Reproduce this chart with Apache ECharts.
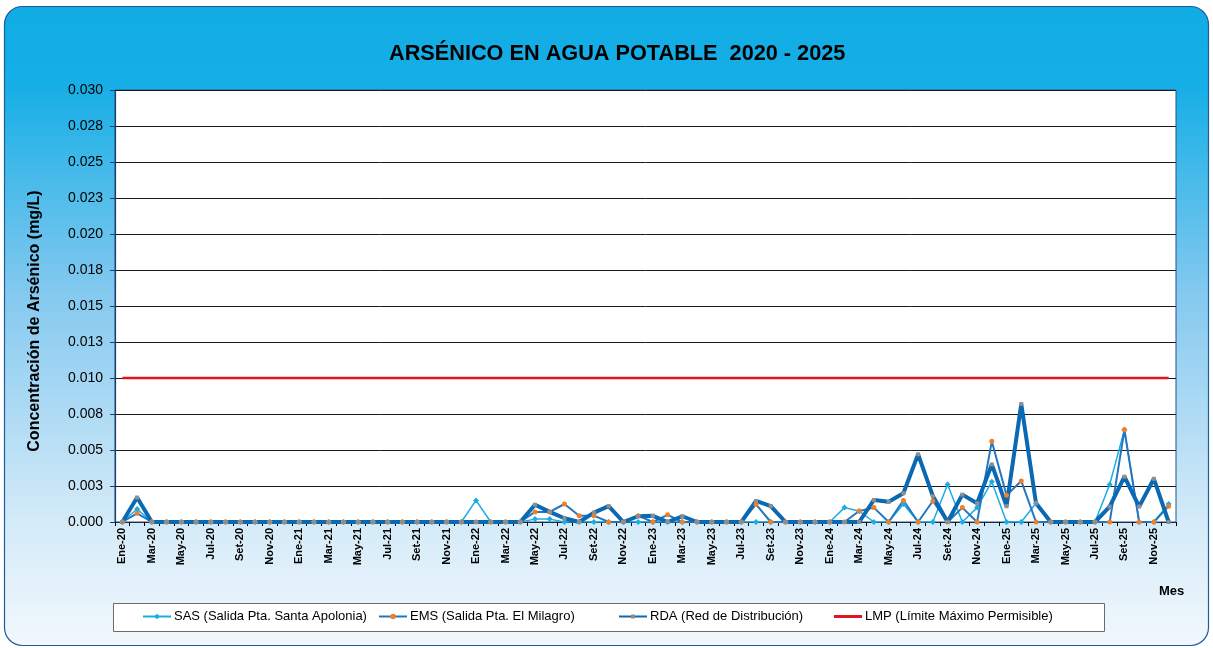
<!DOCTYPE html>
<html>
<head>
<meta charset="utf-8">
<title>Arsénico en agua potable 2020 - 2025</title>
<script src="https://cdn.jsdelivr.net/npm/echarts@6/dist/echarts.min.js"></script>
<style>
  html, body { margin: 0; padding: 0; background: #fff; }
  #chart { width: 1213px; height: 648px; }
</style>
</head>
<body>
<div id="chart"></div>
<script>
// months Ene-20 .. Dic-25
const monthNames = ['Ene', 'Feb', 'Mar', 'Abr', 'May', 'Jun', 'Jul', 'Ago', 'Set', 'Oct', 'Nov', 'Dic'];
const years = ['20', '21', '22', '23', '24', '25'];
const months = [];
years.forEach(y => monthNames.forEach(m => months.push(m + '-' + y)));

// SAS (Salida Pta. Santa Apolonia), mg/L
const sas = [
  0, 0.0009, 0, 0, 0, 0, 0, 0, 0, 0, 0, 0,
  0, 0, 0, 0, 0, 0, 0, 0, 0, 0, 0, 0,
  0.0015, 0, 0, 0, 0.0002, 0.0002, 0, 0, 0, 0, 0, 0,
  0, 0, 0, 0, 0, 0, 0, 0, 0, 0, 0, 0,
  0, 0.0010, 0.00075, 0, 0, 0.00125, 0, 0, 0.0026, 0, 0.0010, 0.0028,
  0, 0, 0.0013, 0, 0, 0, 0, 0.0026, 0.0064, 0, 0, 0.00125
];

// EMS (Salida Pta. El Milagro), mg/L
const ems = [
  0, 0.0006, 0, 0, 0, 0, 0, 0, 0, 0, 0, 0,
  0, 0, 0, 0, 0, 0, 0, 0, 0, 0, 0, 0,
  0, 0, 0, 0, 0.0007, 0.0007, 0.00125, 0.00044, 0.00044, 0, 0, 0.00044,
  0, 0.0005, 0, 0, 0, 0, 0, 0.00123, 0, 0, 0, 0,
  0, 0, 0.00076, 0.0010, 0, 0.0015, 0, 0.00146, 0, 0.0010, 0, 0.0056,
  0.00185, 0.00285, 0, 0, 0, 0, 0, 0, 0.0064, 0, 0, 0.0011
];

// RDA (Red de Distribución), mg/L
const rda = [
  0, 0.0017, 0, 0, 0, 0, 0, 0, 0, 0, 0, 0,
  0, 0, 0, 0, 0, 0, 0, 0, 0, 0, 0, 0,
  0, 0, 0, 0, 0.0012, 0.0007, 0.00026, 0, 0.00065, 0.0011, 0, 0.0004,
  0.00043, 0, 0.0004, 0, 0, 0, 0, 0.00146, 0.0011, 0, 0, 0,
  0, 0, 0, 0.00153, 0.0014, 0.0020, 0.0047, 0.0018, 0, 0.0019, 0.0013, 0.0040,
  0.0011, 0.0082, 0.0013, 0, 0, 0, 0, 0.00107, 0.00315, 0.00107, 0.0030, 0
];

// LMP (Límite Máximo Permisible), mg/L
const lmp = 0.010;

const FONT = '"Liberation Sans", Arial, sans-serif';

const chart = echarts.init(document.getElementById('chart'), null, { renderer: 'canvas' });

const legendBase = {
  top: 610,
  padding: 0,
  itemWidth: 28,
  itemGap: 4,
  textStyle: { fontFamily: FONT, fontSize: 13, color: '#000', padding: [0, 0, 0, -2] }
};

const option = {
  animation: false,
  backgroundColor: '#fff',
  textStyle: { fontFamily: FONT },
  title: {
    text: 'ARSÉNICO EN AGUA POTABLE  2020 - 2025',
    left: 384,
    top: 38,
    textStyle: { fontFamily: FONT, fontSize: 21.7, fontWeight: 'bold', color: '#000' }
  },
  graphic: [
    {
      type: 'rect',
      z: -10,
      silent: true,
      shape: { x: 4.5, y: 6.5, width: 1204, height: 639, r: 18 },
      style: {
        fill: new echarts.graphic.LinearGradient(0, 0, 0, 1, [
          { offset: 0, color: '#12ace4' },
          { offset: 0.12, color: '#15aee6' },
          { offset: 0.45, color: '#84c9ef' },
          { offset: 0.8, color: '#d3eaf8' },
          { offset: 1, color: '#f2f8fd' }
        ]),
        stroke: '#1f5c9a',
        lineWidth: 1.2
      }
    },
    {
      type: 'rect',
      z: -5,
      silent: true,
      shape: { x: 113.5, y: 603.5, width: 991, height: 28 },
      style: { fill: '#fff', stroke: '#6b6b6b', lineWidth: 1 }
    },
    {
      type: 'text',
      left: 1159,
      top: 585,
      style: { text: 'Mes', font: 'bold 13px ' + FONT, fill: '#000' }
    },
    {
      type: 'text',
      x: 35,
      y: 321,
      rotation: Math.PI / 2,
      style: {
        text: 'Concentración de Arsénico (mg/L)',
        font: 'bold 16px ' + FONT,
        fill: '#000',
        align: 'center',
        verticalAlign: 'middle'
      }
    }
  ],
  legend: [
    Object.assign({}, legendBase, { left: 142, itemHeight: 7, data: ['SAS (Salida Pta. Santa Apolonia)'] }),
    Object.assign({}, legendBase, { left: 378, itemHeight: 7, data: ['EMS (Salida Pta. El Milagro)'] }),
    Object.assign({}, legendBase, { left: 618, itemHeight: 5, data: ['RDA (Red de Distribución)'] }),
    Object.assign({}, legendBase, {
      left: 834, itemHeight: 3,
      data: [{ name: 'LMP (Límite Máximo Permisible)', icon: 'rect' }]
    })
  ],
  grid: {
    left: 115,
    right: 37,
    top: 90,
    bottom: 126,
    show: true,
    backgroundColor: '#fff',
    borderColor: '#25558c',
    borderWidth: 1
  },
  xAxis: {
    type: 'category',
    data: months,
    boundaryGap: true,
    axisLine: { lineStyle: { color: '#1b2f4a', width: 1 } },
    axisTick: { show: true, interval: 0, length: 4, lineStyle: { color: '#000' } },
    axisLabel: {
      interval: 1,
      rotate: 90,
      margin: 6,
      fontFamily: FONT,
      fontSize: 11,
      fontWeight: 'bold',
      color: '#000'
    },
    splitLine: { show: false }
  },
  yAxis: {
    type: 'value',
    min: 0,
    max: 0.03,
    interval: 0.0025,
    axisLine: { show: true, lineStyle: { color: '#1b3f6e', width: 1.2 } },
    axisTick: { show: true, length: 5, lineStyle: { color: '#1b3f6e' } },
    axisLabel: {
      margin: 12,
      fontFamily: FONT,
      fontSize: 14,
      color: '#000',
      formatter: v => (Math.round(v * 1000 + 1e-6) / 1000).toFixed(3)
    },
    splitLine: { show: true, lineStyle: { color: '#1a1a1a', width: 1 } }
  },
  series: [
    {
      name: 'SAS (Salida Pta. Santa Apolonia)',
      type: 'line',
      data: sas,
      symbol: 'diamond',
      symbolSize: 6,
      showAllSymbol: true,
      lineStyle: { color: '#1aace6', width: 1.5 },
      itemStyle: { color: '#1aace6' }
    },
    {
      name: 'EMS (Salida Pta. El Milagro)',
      type: 'line',
      data: ems,
      symbol: 'circle',
      symbolSize: 5,
      showAllSymbol: true,
      lineStyle: { color: '#2376bf', width: 2 },
      itemStyle: { color: '#f07f2a' }
    },
    {
      name: 'RDA (Red de Distribución)',
      type: 'line',
      data: rda,
      symbol: 'rect',
      symbolSize: 4,
      showAllSymbol: true,
      lineStyle: { color: '#0b68b3', width: 4 },
      itemStyle: { color: '#8e8e8e' }
    },
    {
      name: 'LMP (Límite Máximo Permisible)',
      type: 'line',
      data: months.map(() => lmp),
      symbol: 'none',
      lineStyle: { color: '#e3151c', width: 2.5 },
      itemStyle: { color: '#e3151c' }
    }
  ]
};

chart.setOption(option);
window.addEventListener('resize', () => chart.resize());
</script>
</body>
</html>
